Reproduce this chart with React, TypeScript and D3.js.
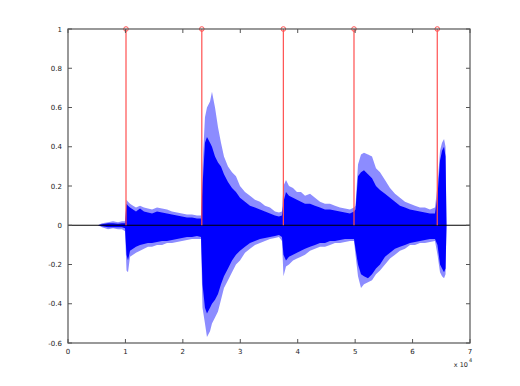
import React from "react";
import * as d3 from "d3";

// x in units of 10^4 samples
const onsets = [1.01, 2.33, 3.75, 4.98, 6.43];
const yTicks = [-0.6, -0.4, -0.2, 0, 0.2, 0.4, 0.6, 0.8, 1];
const yTickLabels = ["-0.6", "-0.4", "-0.2", "0", "0.2", "0.4", "0.6", "0.8", "1"];
const xTicks = [0, 1, 2, 3, 4, 5, 6, 7];
const xTickLabels = ["0", "1", "2", "3", "4", "5", "6", "7"];

// envelope samples: position, upper outer, upper inner, lower inner, lower outer
const envX = [
  0.522, 0.592, 0.697, 0.784, 0.871, 0.94, 0.993,
  1.019, 1.045, 1.08, 1.132, 1.184, 1.254, 1.323, 1.393, 1.463, 1.55, 1.637, 1.724, 1.811, 1.898, 1.985, 2.072, 2.159, 2.246, 2.316,
  2.342, 2.385, 2.42, 2.473, 2.507, 2.56, 2.612, 2.664, 2.716, 2.786, 2.856, 2.925, 2.995, 3.082, 3.169, 3.256, 3.343, 3.43, 3.517, 3.604, 3.674, 3.726,
  3.752, 3.796, 3.848, 3.918, 3.987, 4.057, 4.127, 4.214, 4.301, 4.388, 4.475, 4.562, 4.649, 4.736, 4.823, 4.91, 4.98,
  5.006, 5.05, 5.102, 5.154, 5.224, 5.294, 5.363, 5.433, 5.52, 5.607, 5.694, 5.781, 5.868, 5.955, 6.042, 6.129, 6.216, 6.303, 6.39,
  6.434, 6.478, 6.513, 6.548, 6.574, 6.591,
];
const upperOuter = [
  0, 0.01, 0.015, 0.02, 0.015, 0.02, 0.02,
  0.13, 0.12, 0.11, 0.1, 0.09, 0.1, 0.09, 0.085, 0.08, 0.09, 0.085, 0.08, 0.07, 0.065, 0.06, 0.055, 0.055, 0.05, 0.05,
  0.3, 0.55, 0.6, 0.63, 0.68, 0.6, 0.5, 0.42, 0.35, 0.3, 0.27, 0.25, 0.2, 0.17, 0.15, 0.13, 0.12, 0.1, 0.09, 0.07, 0.065, 0.07,
  0.2, 0.23, 0.2, 0.19, 0.17, 0.17, 0.15, 0.16, 0.14, 0.12, 0.11, 0.11, 0.1, 0.09, 0.085, 0.08, 0.09,
  0.1, 0.31, 0.36, 0.37, 0.36, 0.35, 0.29, 0.27, 0.23, 0.19, 0.16, 0.14, 0.12, 0.11, 0.1, 0.09, 0.09, 0.08, 0.09,
  0.2, 0.38, 0.42, 0.44, 0.4, 0,
];
const upperInner = [
  0, 0.005, 0.01, 0.01, 0.008, 0.01, 0.01,
  0.11, 0.1, 0.09, 0.08, 0.07, 0.085, 0.07, 0.065, 0.06, 0.07, 0.065, 0.06, 0.055, 0.05, 0.045, 0.04, 0.04, 0.035, 0.035,
  0.2, 0.42, 0.45, 0.42, 0.4, 0.35, 0.32, 0.3, 0.26, 0.22, 0.19, 0.17, 0.14, 0.12, 0.1, 0.09, 0.08, 0.07, 0.06, 0.05, 0.045, 0.05,
  0.12, 0.17, 0.15, 0.14, 0.13, 0.12, 0.11, 0.11, 0.1, 0.09, 0.08, 0.08, 0.075, 0.07, 0.065, 0.06, 0.07,
  0.08, 0.25, 0.27, 0.28, 0.26, 0.24, 0.2, 0.18, 0.16, 0.14, 0.12, 0.1, 0.09, 0.08, 0.075, 0.07, 0.065, 0.06, 0.06,
  0.15, 0.33, 0.38, 0.4, 0.35, 0,
];
const lowerInner = [
  0, -0.005, -0.01, -0.01, -0.01, -0.01, -0.015,
  -0.15, -0.18, -0.13, -0.12, -0.11, -0.1, -0.095, -0.09, -0.09, -0.085, -0.08, -0.08, -0.075, -0.07, -0.065, -0.06, -0.06, -0.055, -0.06,
  -0.3, -0.42, -0.45, -0.42, -0.4, -0.38, -0.35, -0.3, -0.26, -0.22, -0.18, -0.15, -0.13, -0.11, -0.09, -0.08, -0.07, -0.065, -0.06, -0.055, -0.05, -0.06,
  -0.15, -0.18, -0.16, -0.15, -0.14, -0.13, -0.12, -0.11, -0.1, -0.09, -0.09, -0.08, -0.08, -0.075, -0.07, -0.07, -0.07,
  -0.12, -0.2, -0.25, -0.26, -0.27, -0.25, -0.22, -0.2, -0.16, -0.14, -0.12, -0.11, -0.1, -0.09, -0.085, -0.08, -0.075, -0.07, -0.07,
  -0.1, -0.2, -0.22, -0.24, -0.22, 0,
];
const lowerOuter = [
  0, -0.01, -0.02, -0.015, -0.02, -0.02, -0.03,
  -0.23, -0.24, -0.16, -0.15, -0.14, -0.13, -0.12, -0.11, -0.11, -0.1, -0.1, -0.09, -0.09, -0.085, -0.08, -0.075, -0.07, -0.07, -0.07,
  -0.42, -0.5, -0.57, -0.54, -0.5, -0.47, -0.44, -0.38, -0.32, -0.28, -0.24, -0.2, -0.18, -0.14, -0.12, -0.1, -0.09, -0.08, -0.07, -0.065, -0.06, -0.08,
  -0.26, -0.21, -0.2, -0.18, -0.17, -0.16, -0.15, -0.13, -0.12, -0.11, -0.11, -0.1, -0.09, -0.09, -0.085, -0.08, -0.08,
  -0.15, -0.26, -0.32, -0.3, -0.29, -0.28, -0.25, -0.23, -0.2, -0.17, -0.15, -0.13, -0.12, -0.1, -0.1, -0.09, -0.09, -0.085, -0.08,
  -0.15, -0.24, -0.26, -0.27, -0.25, 0,
];

const W = 520;
const H = 386;
const L = 68, R = 470, T = 29, B = 343;

export default function App() {
  const x = d3.scaleLinear().domain([0, 7]).range([L, R]);
  const y = d3.scaleLinear().domain([-0.6, 1]).range([B, T]);
  const idx = d3.range(envX.length);
  const outerArea = d3
    .area<number>()
    .x((i) => x(envX[i]))
    .y0((i) => y(lowerOuter[i]))
    .y1((i) => y(upperOuter[i]));
  const innerArea = d3
    .area<number>()
    .x((i) => x(envX[i]))
    .y0((i) => y(lowerInner[i]))
    .y1((i) => y(upperInner[i]));
  const axisColor = "#555";
  const font = "DejaVu Sans, sans-serif";
  const tl = 4;
  return (
    <div style={{ position: "absolute", left: 0, top: 0 }}>
      <svg width={W} height={H} style={{ display: "block", background: "#fff" }}>
        <path d={outerArea(idx) || ""} fill="#8c8cff" />
        <path d={innerArea(idx) || ""} fill="#0000ff" />
        <line x1={L} x2={R} y1={y(0)} y2={y(0)} stroke="#000" strokeWidth={1.2} />
        {onsets.map((o, i) => (
          <g key={i}>
            <line x1={x(o)} x2={x(o)} y1={y(0)} y2={y(1)} stroke="#ff5050" strokeWidth={1.2} />
            <circle cx={x(o)} cy={y(1)} r={2.3} fill="none" stroke="#ff5050" strokeWidth={1} />
          </g>
        ))}
        <rect x={L} y={T} width={R - L} height={B - T} fill="none" stroke={axisColor} strokeWidth={1.2} />
        {yTicks.map((t, i) => (
          <g key={"y" + i}>
            <line x1={L} x2={L + tl} y1={y(t)} y2={y(t)} stroke={axisColor} />
            <line x1={R} x2={R - tl} y1={y(t)} y2={y(t)} stroke={axisColor} />
            <text x={L - 6} y={y(t) + 2.5} fontSize={7} fontFamily={font} textAnchor="end" fill="#222">
              {yTickLabels[i]}
            </text>
          </g>
        ))}
        {xTicks.map((t, i) => (
          <g key={"x" + i}>
            <line x1={x(t)} x2={x(t)} y1={B} y2={B - tl} stroke={axisColor} />
            <line x1={x(t)} x2={x(t)} y1={T} y2={T + tl} stroke={axisColor} />
            <text x={x(t)} y={B + 11} fontSize={7} fontFamily={font} textAnchor="middle" fill="#222">
              {xTickLabels[i]}
            </text>
          </g>
        ))}
        <text x={R - 2} y={B + 24} fontSize={6.5} fontFamily={font} textAnchor="end" fill="#222">
          x 10
        </text>
        <text x={R - 1} y={B + 19} fontSize={5} fontFamily={font} textAnchor="start" fill="#222">
          4
        </text>
      </svg>
    </div>
  );
}
